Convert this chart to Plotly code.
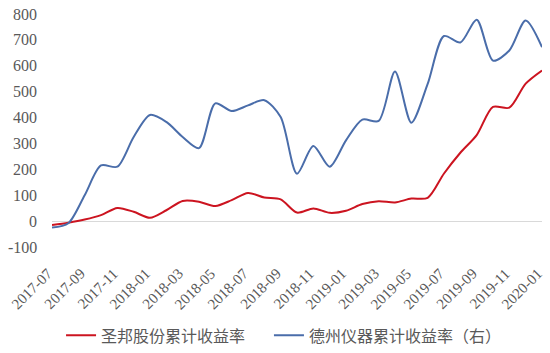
import plotly.graph_objects as go

months = ["2017-07", "2017-08", "2017-09", "2017-10", "2017-11", "2017-12",
          "2018-01", "2018-02", "2018-03", "2018-04", "2018-05", "2018-06",
          "2018-07", "2018-08", "2018-09", "2018-10", "2018-11", "2018-12",
          "2019-01", "2019-02", "2019-03", "2019-04", "2019-05", "2019-06",
          "2019-07", "2019-08", "2019-09", "2019-10", "2019-11", "2019-12",
          "2020-01"]

sbgf = [-15, -6, 6, 23, 51, 36, 13, 42, 78, 75, 58, 81, 109, 91, 84, 33,
        49, 32, 40, 66, 77, 72, 87, 90, 184, 264, 332, 441, 438, 531, 582]

dzyq = [-25, -8, 100, 215, 210, 325, 410, 383, 325, 282, 455, 425, 447, 467,
        402, 183, 290, 210, 312, 392, 387, 578, 380, 530, 715, 690, 778, 620,
        659, 775, 672]

tick_labels = months[::2]
y_ticks = [-100, 0, 100, 200, 300, 400, 500, 600, 700, 800]

RED = "#CC1420"
BLUE = "#4A6DAA"
GRAY = "#595959"
SERIF = "Liberation Serif"
CJK = "Noto Sans CJK SC"

fig = go.Figure()
fig.add_trace(go.Scatter(x=months, y=sbgf, mode="lines", name="圣邦股份累计收益率",
                         legend="legend",
                         line=dict(color=RED, width=2, shape="spline", smoothing=0.8)))
fig.add_trace(go.Scatter(x=months, y=dzyq, mode="lines", name="德州仪器累计收益率（右）",
                         legend="legend2",
                         line=dict(color=BLUE, width=2, shape="spline", smoothing=0.8)))

# y-axis tick labels (serif), placed on the y axis scale
for v in y_ticks:
    fig.add_annotation(xref="paper", yref="y", x=0, y=v, xanchor="right",
                       yanchor="middle", xshift=-13, showarrow=False, text=str(v),
                       font=dict(family=SERIF, size=16, color=GRAY))

# x-axis tick labels (serif, rotated), placed on the category axis
for lab in tick_labels:
    fig.add_annotation(xref="x", yref="paper", x=lab, y=0, xanchor="right",
                       yanchor="top", xshift=6, yshift=-16, showarrow=False,
                       text=lab, textangle=-45,
                       font=dict(family=SERIF, size=15, color=GRAY))

legend_common = dict(orientation="h", xref="container", yref="container",
                     y=0.05, yanchor="middle", xanchor="left",
                     font=dict(family=CJK, size=16, color=GRAY), itemwidth=30,
                     bgcolor="rgba(0,0,0,0)")

fig.update_layout(
    width=550, height=353,
    margin=dict(l=52, r=8, t=14, b=106),
    paper_bgcolor="white", plot_bgcolor="white",
    font=dict(family=SERIF, color=GRAY, size=14),
    showlegend=True,
    legend=dict(x=0.111, **legend_common),
    legend2=dict(x=0.489, **legend_common),
    xaxis=dict(type="category", range=[0, 30], tickmode="array",
               tickvals=tick_labels, showticklabels=False,
               showgrid=False, showline=False, zeroline=False, automargin=False),
    yaxis=dict(range=[-100, 800], tickmode="array", tickvals=y_ticks,
               showticklabels=False,
               showgrid=False, showline=False, zeroline=True, automargin=False,
               zerolinecolor="#D9D9D9", zerolinewidth=1),
)

fig.write_html("out.html")
